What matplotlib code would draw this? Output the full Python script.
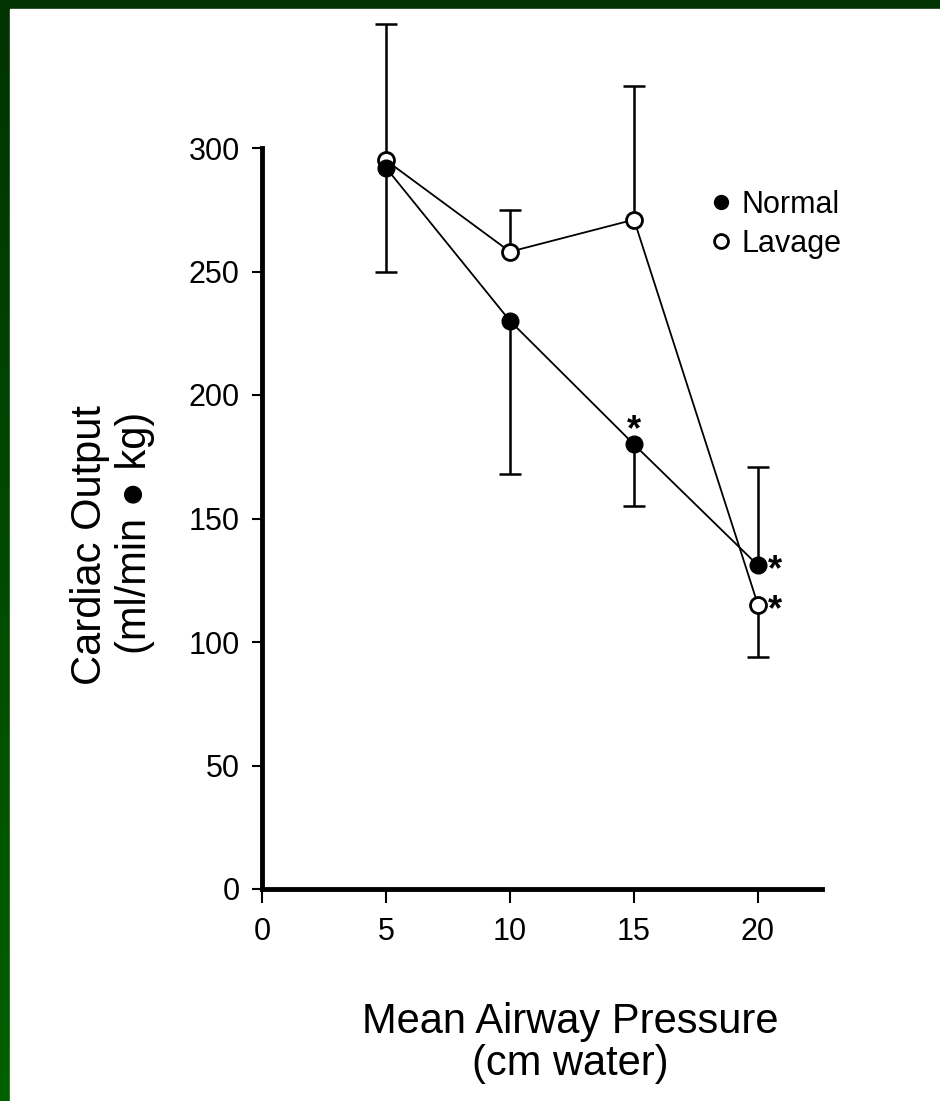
import numpy as np
import matplotlib.pyplot as plt
from matplotlib.patches import Rectangle
from matplotlib.colors import LinearSegmentedColormap

plt.rcParams['font.family'] = ['Liberation Sans', 'DejaVu Sans']

# data
pressure = [5, 10, 15, 20]
normal = [292, 230, 180, 131]
lavage = [295, 258, 271, 115]
# one-sided error bars as drawn
normal_err_lo = [42, 62, 25, 0]
normal_err_hi = [0, 0, 0, 40]
lavage_err_lo = [0, 0, 0, 21]
lavage_err_hi = [55, 17, 54, 0]
x_ticks = [0, 5, 10, 15, 20]
y_ticks = [0, 50, 100, 150, 200, 250, 300]

W, H = 940, 1101
fig = plt.figure(figsize=(W / 100, H / 100), dpi=100)

# green slide frame with a slight gradient
bg = fig.add_axes([0, 0, 1, 1], zorder=-10)
grad = np.linspace(0, 1, 256).reshape(-1, 1)
bg.imshow(grad, cmap=LinearSegmentedColormap.from_list('g', ['#003300', '#006000']),
          aspect='auto', extent=[0, 1, 0, 1], origin='upper')
bg.add_patch(Rectangle((10 / W, 0), 1, 1 - 9 / H, color='white', transform=bg.transAxes))
bg.set_xlim(0, 1)
bg.set_ylim(0, 1)
bg.axis('off')

# axes placement: x 0 -> 262px, 20 -> 758px ; y 0 -> 889px, 300 -> 148px
x0, x20 = 262, 758
y0, y300 = 889, 148
px_x = (x20 - x0) / 20
px_y = (y0 - y300) / 300
xmax = (822 - x0) / px_x
ymax = (y0 - 10) / px_y
ax = fig.add_axes([x0 / W, 1 - y0 / H, (822 - x0) / W, (y0 - 10) / H])
ax.set_xlim(0, xmax)
ax.set_ylim(0, ymax)
ax.patch.set_alpha(0)


def one_sided_bars(x, y, lo, hi):
    x = np.array(x)
    y = np.array(y, dtype=float)
    lo = np.array(lo)
    hi = np.array(hi)
    ax.vlines(x, y - lo, y + hi, color='black', lw=1.8, zorder=2)
    ends = np.concatenate([(y - lo)[lo > 0], (y + hi)[hi > 0]])
    xs = np.concatenate([x[lo > 0], x[hi > 0]])
    ax.plot(xs, ends, '_', color='black', ms=16, mew=1.8, zorder=2)


one_sided_bars(pressure, normal, normal_err_lo, normal_err_hi)
one_sided_bars(pressure, lavage, lavage_err_lo, lavage_err_hi)

lw = 1.3
ax.plot(pressure, normal, '-', color='black', lw=lw, zorder=3)
ax.plot(pressure, lavage, '-', color='black', lw=lw, zorder=3)
ax.plot(pressure, normal, 'o', ms=12, mfc='black', mec='black', zorder=5, label='Normal')
ax.plot(pressure, lavage, 'o', ms=11.5, mfc='white', mec='black', mew=2, zorder=4, label='Lavage')

# significance marks
star = dict(textcoords='offset points', ha='center', va='center', fontsize=26, fontweight='bold')
ax.annotate('*', (pressure[2], normal[2]), xytext=(0, 10), **star)
ax.annotate('*', (pressure[3], normal[3]), xytext=(12, -4), **star)
ax.annotate('*', (pressure[3], lavage[3]), xytext=(12, -4), **star)

for s in ['top', 'right']:
    ax.spines[s].set_visible(False)
ax.spines['left'].set_bounds(0, 300)
ax.spines['left'].set_linewidth(3.5)
ax.spines['bottom'].set_linewidth(3.5)
ax.spines['left'].set_capstyle('projecting')
ax.set_xticks(x_ticks)
ax.set_yticks(y_ticks)
ax.tick_params(axis='both', direction='out', length=7, width=1.5, labelsize=22, pad=9)
ax.tick_params(axis='x', length=10, pad=10)

leg = ax.legend(loc='upper left', bbox_to_anchor=((706 - x0) / (822 - x0), (y0 - 190) / (y0 - 10)),
                frameon=False, fontsize=22, handletextpad=0.15, labelspacing=0.3,
                handlelength=1.0, borderaxespad=0, borderpad=0)
for h in leg.legend_handles:
    h.set_markersize(10)

fig.text(570 / W, 1 - 1022 / H, 'Mean Airway Pressure', ha='center', va='center', fontsize=30)
fig.text(570 / W, 1 - 1064 / H, '(cm water)', ha='center', va='center', fontsize=30)
fig.text(90 / W, 1 - 545 / H, 'Cardiac Output', ha='center', va='center', fontsize=30, rotation=90)
fig.text(135 / W, 1 - 533 / H, '(ml/min \u25cf kg)', ha='center', va='center', fontsize=30, rotation=90)

fig.savefig('out.png', dpi=100)
